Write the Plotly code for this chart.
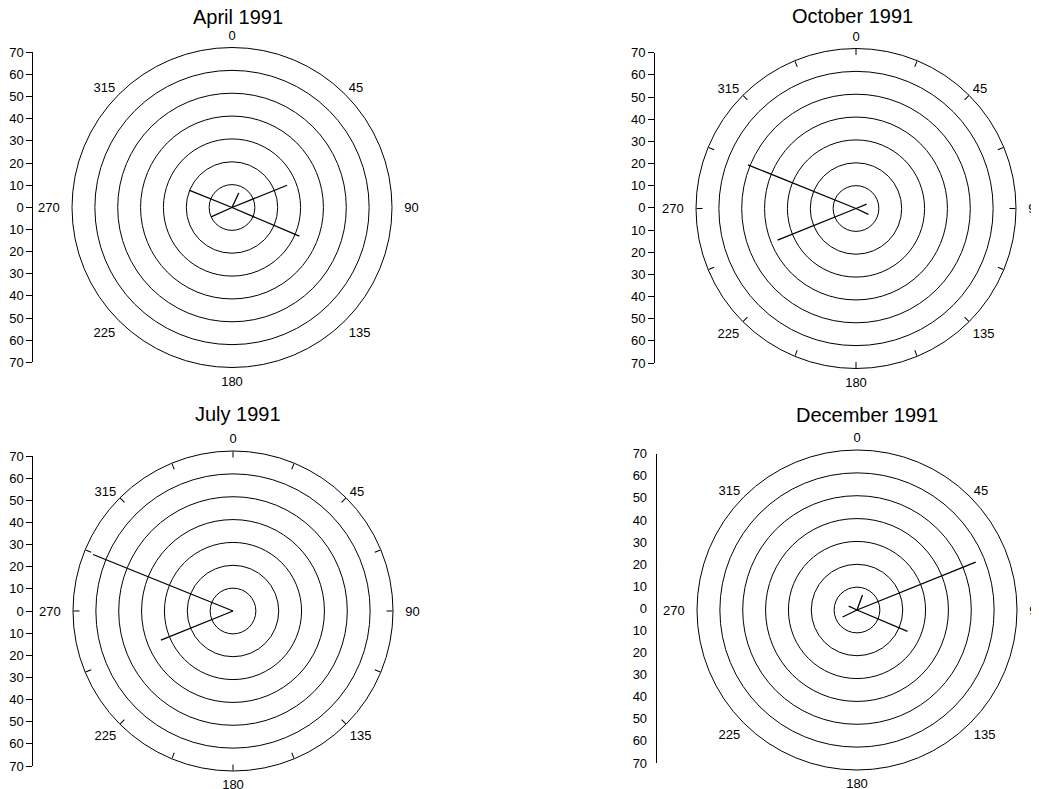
import plotly.graph_objects as go

# ---------------- data ----------------
titles = ["April 1991", "October 1991", "July 1991", "December 1991"]

april_dir = [292, 68, 113, 246, 25]
april_mag = [20, 26, 32, 10, 7]

october_dir = [292, 248, 68, 115]
october_mag = [51, 37, 5, 6]

july_dir = [292, 248]
july_mag = [66, 34]

december_dir = [68, 113, 244, 20, 295]
december_mag = [56, 24, 7, 7, 4]

ring_values = [10, 20, 30, 40, 50, 60, 70]
compass_vals = [0, 22.5, 45, 67.5, 90, 112.5, 135, 157.5, 180, 202.5, 225, 247.5, 270, 292.5, 315, 337.5]
compass_text = ["0", "", "45", "", "90", "", "135", "", "180", "", "225", "", "270", "", "315", ""]
scale_vals = [-70, -60, -50, -40, -30, -20, -10, 0, 10, 20, 30, 40, 50, 60, 70]
scale_text = ["70", "60", "50", "40", "30", "20", "10", "0", "10", "20", "30", "40", "50", "60", "70"]

# ---------------- layout geometry (screen pixels) ----------------
W, H = 1039, 789
OFF = 8  # page body margin
R = 160
panels = [
    dict(title=titles[0], d=april_dir, m=april_mag, cx=232, cy=207.5, aticks=False,
         sx=33.3, st=52.3, sb=362.3, sticks=True, tx=238, ty=17),
    dict(title=titles[1], d=october_dir, m=october_mag, cx=856, cy=208.5, aticks=True,
         sx=655, st=52.7, sb=363, sticks=True, tx=852, ty=16),
    dict(title=titles[2], d=july_dir, m=july_mag, cx=233, cy=611, aticks=True,
         sx=33.3, st=456, sb=766, sticks=True, tx=238, ty=414),
    dict(title=titles[3], d=december_dir, m=december_mag, cx=857, cy=610, aticks=False,
         sx=656.7, st=453.7, sb=763, sticks=False, tx=867, ty=415),
]


def px(x):
    return (x - OFF) / W


def py(y):
    return 1 - (y - OFF) / H


# side labels sit a little further out (the original rings are slightly wider than tall)
NB = "\u00a0\u00a0"
label_text = []
for v, t in zip(compass_vals[::2], compass_text[::2]):
    if v == 90:
        t = NB + t
    elif v == 270:
        t = t + NB
    label_text.append(t)

FONT = "Liberation Sans, Arial, Helvetica, sans-serif"

fig = go.Figure()
layout = dict(
    width=W, height=H,
    margin=dict(l=0, r=0, t=0, b=0, autoexpand=False),
    paper_bgcolor="white", plot_bgcolor="white",
    showlegend=False,
    font=dict(family=FONT, size=12, color="black"),
    annotations=[],
)

extra = 5
for i, p in enumerate(panels, start=1):
    pk = "polar" if i == 1 else f"polar{i}"
    dom = dict(x=[px(p["cx"] - R), px(p["cx"] + R)],
               y=[py(p["cy"] + R), py(p["cy"] - R)])
    rr, tt = [], []
    for a, m in zip(p["d"], p["m"]):
        rr += [0, m, None]
        tt += [a, a, None]
    fig.add_trace(go.Scatterpolar(r=rr, theta=tt, mode="lines",
                                  line=dict(color="black", width=1.3),
                                  subplot=pk, hoverinfo="skip"))
    layout[pk] = dict(
        domain=dom,
        bgcolor="white",
        radialaxis=dict(range=[0, 70], tickvals=ring_values, showticklabels=False,
                        showline=False, ticks="", showgrid=True, gridcolor="black",
                        gridwidth=1),
        angularaxis=dict(rotation=90, direction="clockwise", tickmode="array",
                         tickvals=compass_vals[::2], ticktext=label_text,
                         ticks="outside", ticklen=2, tickcolor="rgba(0,0,0,0)",
                         showgrid=False, showline=True,
                         linecolor="black", linewidth=1,
                         tickfont=dict(family=FONT, size=13, color="black")),
    )
    if p["aticks"]:
        # overlay subplot carrying the inside compass ticks every 22.5 degrees
        extra += 1
        ek = f"polar{extra}"
        fig.add_trace(go.Scatterpolar(r=[None], theta=[None], mode="lines",
                                      subplot=ek, hoverinfo="skip"))
        layout[ek] = dict(
            domain=dom,
            bgcolor="rgba(0,0,0,0)",
            radialaxis=dict(range=[0, 70], visible=False),
            angularaxis=dict(rotation=90, direction="clockwise", tickmode="array",
                             tickvals=compass_vals, showticklabels=False,
                             ticks="inside", ticklen=6, tickcolor="black",
                             showgrid=False, showline=False),
        )
    xk = "xaxis" if i == 1 else f"xaxis{i}"
    yk = "yaxis" if i == 1 else f"yaxis{i}"
    xr = "x" if i == 1 else f"x{i}"
    yr = "y" if i == 1 else f"y{i}"
    fig.add_trace(go.Scatter(x=[0], y=[0], mode="markers", marker=dict(opacity=0),
                             xaxis=xr, yaxis=yr, hoverinfo="skip"))
    layout[xk] = dict(domain=[px(p["sx"]), px(p["sx"] + 6)], visible=False,
                      anchor=yr, range=[0, 1], fixedrange=True)
    layout[yk] = dict(domain=[py(p["sb"]), py(p["st"])], anchor=xr,
                      range=[-70, 70], tickmode="array", tickvals=scale_vals,
                      ticktext=scale_text, showline=True, linecolor="black",
                      linewidth=1, ticks="outside", ticklen=6,
                      tickcolor="black" if p["sticks"] else "rgba(0,0,0,0)",
                      showgrid=False, zeroline=False, side="left",
                      tickfont=dict(family=FONT, size=13, color="black"))
    layout["annotations"].append(dict(
        text=p["title"], x=px(p["tx"]), y=py(p["ty"]), xref="paper", yref="paper",
        xanchor="center", yanchor="middle", showarrow=False,
        font=dict(family=FONT, size=20, color="black")))

fig.update_layout(**layout)
fig.write_html("out.html")
